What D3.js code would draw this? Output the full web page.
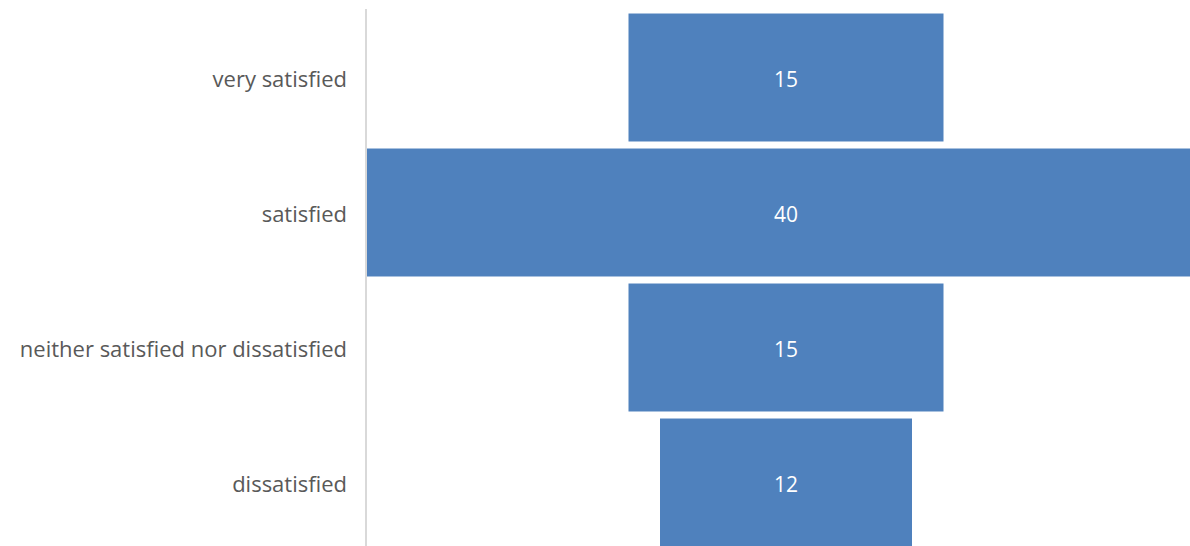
<!DOCTYPE html>
<html>
<head>
<meta charset="utf-8">
<script src="https://cdn.jsdelivr.net/npm/d3@7"></script>
<style>
  body { margin: 0; background: #fff; }
  svg { display: block; }
</style>
</head>
<body>
<svg></svg>
<script>
const categories = ['very satisfied', 'satisfied', 'neither satisfied nor dissatisfied', 'dissatisfied']
const values = [15, 40, 15, 12]

const width = 1190
const height = 546
const axisX = 366
const plotRight = 1206

const svg = d3.select('svg')
    .attr('width', width)
    .attr('height', height)

let yScale = d3.scaleBand()
    .domain(categories)
    .range([10, 550])
    .paddingInner(0.052)
    .paddingOuter(0.026)

// bars are centered in the plot, so width scale runs from 0 to the full plot width
let widthScale = d3.scaleLinear()
    .domain([0, d3.max(values)])
    .range([0, plotRight - axisX])

const center = (axisX + plotRight) / 2

let rows = categories.map((c, i) => [c, values[i]])

svg.selectAll('rect')
    .data(rows)
    .enter()
    .append('rect')
    .attr('x', (d) => center - widthScale(d[1]) / 2)
    .attr('y', (d) => yScale(d[0]))
    .attr('width', (d) => widthScale(d[1]))
    .attr('height', yScale.bandwidth())
    .attr('fill', '#4F81BD')

svg.selectAll('.val')
    .data(rows)
    .enter()
    .append('text')
    .attr('class', 'val')
    .attr('x', center)
    .attr('y', (d) => yScale(d[0]) + yScale.bandwidth() / 2 + 2)
    .attr('dy', '0.35em')
    .attr('text-anchor', 'middle')
    .attr('fill', '#fff')
    .style('font-family', 'Open Sans, sans-serif')
    .style('font-size', '21px')
    .text((d) => d[1])

// category axis on the left
let yAxis = d3.axisLeft(yScale).tickSize(0).tickPadding(19)
let g = svg.append('g')
    .attr('transform', 'translate(' + axisX + ', 0)')
    .call(yAxis)
g.select('.domain').attr('stroke', '#d9d9d9').attr('stroke-width', 2)
    .attr('d', 'M0,9V546')
g.selectAll('text')
    .attr('fill', '#595959')
    .attr('y', 2)
    .style('font-family', 'Open Sans, sans-serif')
    .style('font-size', '22px')
    .attr('textLength', null)
</script>
</body>
</html>
